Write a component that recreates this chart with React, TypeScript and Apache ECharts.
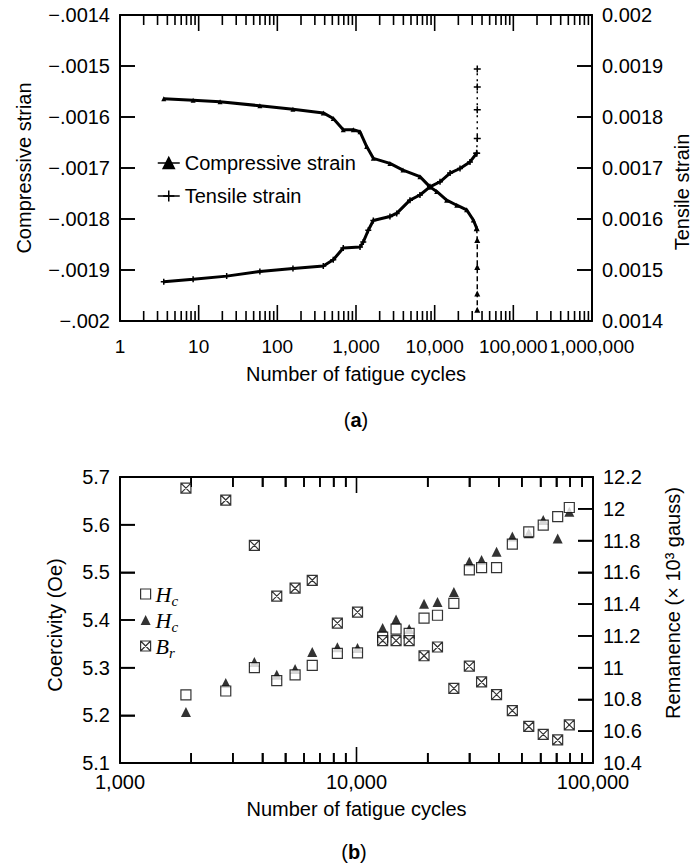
import React, { useEffect, useRef } from 'react';
import * as echarts from 'echarts';

// ---------- Chart (a): strain vs fatigue cycles ----------
const compressiveCycles = [3.6, 8.5, 18.7, 60, 158, 384, 514, 689, 924, 1125, 1368, 1660, 2700, 3955, 6500, 8710, 10600, 14200, 19100, 25500, 31000, 34200];
const compressiveStrain = [-0.001564, -0.001567, -0.00157, -0.001578, -0.001585, -0.001592, -0.001603, -0.001625, -0.001625, -0.001629, -0.001658, -0.001681, -0.001691, -0.001704, -0.001717, -0.001737, -0.001746, -0.001763, -0.001773, -0.001782, -0.001802, -0.001818];
const compressiveSpikeCycles = [34200, 34800, 34800, 34800, 34800];
const compressiveSpikeStrain = [-0.001818, -0.001841, -0.001894, -0.001946, -0.001978];

const tensileCycles = [3.6, 8.5, 22.7, 60, 158, 384, 514, 689, 1125, 1238, 1433, 1660, 2700, 3290, 4855, 6500, 8710, 11700, 15700, 21000, 28100, 34200];
const tensileStrain = [0.001477, 0.001482, 0.001488, 0.001497, 0.001503, 0.001508, 0.00152, 0.001543, 0.001545, 0.001555, 0.001578, 0.001597, 0.001605, 0.001611, 0.001637, 0.001647, 0.001663, 0.001673, 0.00169, 0.001699, 0.001712, 0.001729];
const tensileSpikeCycles = [34200, 34800, 34800, 34800, 34800];
const tensileSpikeStrain = [0.001729, 0.001758, 0.001814, 0.001859, 0.001894];

const topMajorTicks = [10, 100, 1000, 10000, 100000];
const topLabelTicks = [1, 10, 100, 1000, 10000, 100000, 999999.999];
const topDecades = [1, 10, 100, 1000, 10000, 100000];
const topLeftTicks = [-0.0019, -0.0018, -0.0017, -0.0016, -0.0015];
const topRightTicks = [0.0015, 0.0016, 0.0017, 0.0018, 0.0019];

// ---------- Chart (b): coercivity / remanence ----------
const cyclesB = [1900, 2800, 3700, 4600, 5500, 6500, 8300, 10100, 12900, 14700, 16700, 19300, 22000, 25800, 30000, 33800, 39100, 45600, 53500, 61600, 70900, 79400];
const hcSquare = [5.243, 5.251, 5.3, 5.273, 5.285, 5.305, 5.33, 5.331, 5.364, 5.381, 5.372, 5.404, 5.41, 5.435, 5.505, 5.51, 5.51, 5.559, 5.585, 5.599, 5.617, 5.636];
const hcTriangle = [5.207, 5.268, 5.312, 5.285, 5.297, 5.333, 5.343, 5.341, 5.383, 5.401, 5.381, 5.434, 5.438, 5.459, 5.522, 5.526, 5.543, 5.575, 5.582, 5.61, 5.571, 5.627];
const remanence = [12.13, 12.055, 11.77, 11.45, 11.5, 11.55, 11.28, 11.35, 11.17, 11.17, 11.17, 11.075, 11.13, 10.87, 11.01, 10.91, 10.83, 10.73, 10.63, 10.58, 10.545, 10.64];

const botMajorTicks = [10000];
const botLabelTicks = [1000, 10000, 100000];
const botDecades = [1000, 10000];
const botLeftTicks = [5.2, 5.3, 5.4, 5.5, 5.6];
const botRightTicks = [10.6, 10.8, 11, 11.2, 11.4, 11.6, 11.8, 12];

const FONT = 'Liberation Sans, Arial, Helvetica, sans-serif';
const SERIF = 'Liberation Serif, Times New Roman, serif';
const INK = '#000';
const THIN = 1.2;
const TICK_W = 1.6;

const minorsOf = (decades: number[]) => {
  const out: number[] = [];
  decades.forEach((d) => {
    [2, 3, 4, 5, 6, 7, 8, 9].forEach((m) => out.push(d * m));
  });
  return out;
};

const decadeLabel = (v: number) => String(Math.pow(10, Math.round(Math.log10(v)))).replace(/\B(?=(\d{3})+(?!\d))/g, ',');
const stripZeros = (s: string) => s.replace(/(\.\d*?)0+$/, '$1').replace(/\.$/, '');

function xAxes(gridIndex: number, min: number, max: number, labels: number[], labelMargin: number, labelSize: number, name: string, nameGap: number, nativeTicks: number[] | null) {
  const line = { show: true, onZero: false, lineStyle: { color: INK, width: 2 } };
  const tick = nativeTicks
    ? { show: true, inside: true, length: 10, customValues: nativeTicks, lineStyle: { color: INK, width: TICK_W } }
    : { show: false };
  const base: any = { type: 'log', gridIndex, min, max, axisTick: tick, splitLine: { show: false } };
  return [
    {
      ...base,
      position: 'bottom',
      axisLine: line,
      axisLabel: {
        show: true, customValues: labels, formatter: decadeLabel, margin: labelMargin,
        showMinLabel: true, showMaxLabel: true, hideOverlap: false,
        fontSize: labelSize, color: INK, fontFamily: FONT,
      },
      name,
      nameLocation: 'middle',
      nameGap,
      nameTextStyle: { fontSize: 20, color: INK, fontFamily: FONT },
    },
    { ...base, position: 'top', axisLine: line, axisLabel: { show: false } },
  ];
}

function yAxis(gridIndex: number, position: string, min: number, max: number, interval: number, formatter: (v: number) => string) {
  return {
    type: 'value', gridIndex, position, min, max, interval,
    axisLine: { show: true, onZero: false, lineStyle: { color: INK, width: 2 } },
    axisTick: { show: true, inside: true, length: 15, lineStyle: { color: INK, width: TICK_W } },
    axisLabel: { margin: 10, formatter, fontSize: 20, color: INK, fontFamily: FONT, showMinLabel: true, showMaxLabel: true },
    splitLine: { show: false },
  };
}

// Tick marks on the log x axes (bottom and top edges), placed through the axis scale.
function xTickSeries(xAxisIndex: number, yAxisIndex: number, yRef: number, ticks: number[], len: number) {
  return {
    type: 'custom', xAxisIndex, yAxisIndex, silent: true,
    data: ticks.map((t) => [t, yRef]),
    renderItem: (params: any, api: any) => {
      const cs = params.coordSys;
      const x = api.coord([api.value(0), yRef])[0];
      const bottom = cs.y + cs.height;
      const style = { fill: INK };
      return {
        type: 'group',
        children: [
          { type: 'rect', shape: { x: x - TICK_W / 2, y: bottom - len, width: TICK_W, height: len }, style },
          { type: 'rect', shape: { x: x - TICK_W / 2, y: cs.y, width: TICK_W, height: len }, style },
        ],
      };
    },
  };
}

// Tick marks on a y axis (inside the plot, from its own side), placed through the axis scale.
function yTickSeries(xAxisIndex: number, yAxisIndex: number, xRef: number, ticks: number[], len: number, side: 'left' | 'right') {
  return {
    type: 'custom', xAxisIndex, yAxisIndex, silent: true,
    data: ticks.map((t) => [xRef, t]),
    renderItem: (params: any, api: any) => {
      const cs = params.coordSys;
      const y = api.coord([xRef, api.value(1)])[1];
      const x0 = side === 'left' ? cs.x : cs.x + cs.width - len;
      return {
        type: 'group',
        children: [{ type: 'rect', shape: { x: x0, y: y - TICK_W / 2, width: len, height: TICK_W }, style: { fill: INK } }],
      };
    },
  };
}

const pairs = (xs: number[], ys: number[]) => xs.map((x, i) => [x, ys[i]]);

const PLUS = 'path://M0,5 L10,5 M5,0 L5,10';
const XBOX = 'path://M0,0 L10,0 L10,10 L0,10 Z M0,0 L10,10 M10,0 L0,10';

export default function App() {
  const ref = useRef<HTMLDivElement>(null);
  useEffect(() => {
    const chart = echarts.init(ref.current!, null, { renderer: 'svg' });
    const option: any = {
      animation: false,
      backgroundColor: '#fff',
      grid: [
        { left: 120, top: 15, width: 472, height: 306 },
        { left: 120, top: 477, width: 473, height: 286 },
      ],
      xAxis: [
        ...xAxes(0, 1, 1000000, topLabelTicks, 16, 19, 'Number of fatigue cycles', 43, null),
        ...xAxes(1, 1000, 100000, botLabelTicks, 9, 20, 'Number of fatigue cycles', 36, minorsOf(botDecades)),
      ],
      yAxis: [
        yAxis(0, 'left', -0.002, -0.0014, 0.0001, (v) => '\u2212' + stripZeros(Math.abs(v).toFixed(4)).replace(/^0/, '')),
        yAxis(0, 'right', 0.0014, 0.002, 0.0001, (v) => stripZeros(v.toFixed(4))),
        yAxis(1, 'left', 5.1, 5.7, 0.1, (v) => v.toFixed(1)),
        yAxis(1, 'right', 10.4, 12.2, 0.2, (v) => stripZeros(v.toFixed(1))),
      ],
      legend: [
        {
          data: ['Compressive strain', 'Tensile strain'],
          orient: 'vertical', left: 152, top: 148,
          itemWidth: 22, itemHeight: 14, itemGap: 13,
          textStyle: { fontSize: 20, color: INK, fontFamily: FONT },
          lineStyle: { width: 1.5, color: INK },
          itemStyle: { color: INK, borderColor: INK, borderWidth: 1.5 },
        },
        {
          data: ['Hc1', 'Hc2', 'Br'],
          orient: 'vertical', left: 135, top: 578,
          itemWidth: 10, itemHeight: 10, itemGap: 1,
          itemStyle: { borderWidth: THIN },
          formatter: (name: string) => (name === 'Br' ? '{i|B}{s|r}' : '{i|H}{s|c}'),
          textStyle: {
            rich: {
              i: { fontFamily: SERIF, fontStyle: 'italic', fontSize: 22, lineHeight: 22, verticalAlign: 'top', color: INK },
              s: { fontFamily: SERIF, fontStyle: 'italic', fontSize: 15, lineHeight: 15, verticalAlign: 'top', padding: [10, 0, 0, 0], color: INK },
            },
          },
        },
      ],
      series: [
        {
          name: 'Compressive strain', type: 'line', xAxisIndex: 0, yAxisIndex: 0,
          data: pairs(compressiveCycles, compressiveStrain),
          symbol: 'triangle', symbolSize: 5, showSymbol: true,
          lineStyle: { color: INK, width: 3 }, itemStyle: { color: INK },
        },
        {
          name: 'Compressive strain', type: 'line', xAxisIndex: 0, yAxisIndex: 0,
          data: pairs(compressiveSpikeCycles, compressiveSpikeStrain),
          symbol: 'triangle', symbolSize: 6,
          lineStyle: { color: INK, width: 1.5, type: [5, 3] }, itemStyle: { color: INK },
        },
        {
          name: 'Tensile strain', type: 'line', xAxisIndex: 0, yAxisIndex: 1,
          data: pairs(tensileCycles, tensileStrain),
          symbol: PLUS, symbolSize: 6, showSymbol: true,
          lineStyle: { color: INK, width: 3 }, itemStyle: { color: INK, borderColor: INK, borderWidth: 1.5 },
        },
        {
          name: 'Tensile strain', type: 'line', xAxisIndex: 0, yAxisIndex: 1,
          data: pairs(tensileSpikeCycles, tensileSpikeStrain),
          symbol: PLUS, symbolSize: 7,
          lineStyle: { color: INK, width: 1.5, type: [2, 4] }, itemStyle: { color: INK, borderColor: INK, borderWidth: 1.5 },
        },
        xTickSeries(0, 0, -0.0017, topMajorTicks, 16),
        xTickSeries(0, 0, -0.0017, minorsOf(topDecades), 10),
        yTickSeries(0, 0, 100, topLeftTicks, 15, 'left'),
        yTickSeries(0, 1, 100, topRightTicks, 15, 'right'),
        {
          name: 'Hc2', type: 'scatter', xAxisIndex: 2, yAxisIndex: 2,
          data: pairs(cyclesB, hcTriangle), symbol: 'triangle', symbolSize: 10, itemStyle: { color: INK },
        },
        {
          name: 'Hc1', type: 'scatter', xAxisIndex: 2, yAxisIndex: 2,
          data: pairs(cyclesB, hcSquare), symbol: 'rect', symbolSize: 10,
          itemStyle: { color: '#fff', borderColor: INK, borderWidth: THIN },
        },
        {
          name: 'Br', type: 'scatter', xAxisIndex: 2, yAxisIndex: 3,
          data: pairs(cyclesB, remanence), symbol: XBOX, symbolSize: 10,
          itemStyle: { color: '#fff', borderColor: INK, borderWidth: THIN },
        },
        xTickSeries(2, 2, 5.4, botMajorTicks, 16),
        xTickSeries(2, 2, 5.4, minorsOf(botDecades), 10),
        yTickSeries(2, 2, 10000, botLeftTicks, 15, 'left'),
        yTickSeries(2, 3, 10000, botRightTicks, 15, 'right'),
      ],
      graphic: [
        { type: 'text', x: 24, y: 168, rotation: Math.PI / 2, style: { text: 'Compressive strian', fontSize: 20, fontFamily: FONT, fill: INK, align: 'center', verticalAlign: 'middle' } },
        { type: 'text', x: 682, y: 192, rotation: Math.PI / 2, style: { text: 'Tensile strain', fontSize: 20, fontFamily: FONT, fill: INK, align: 'center', verticalAlign: 'middle' } },
        { type: 'text', x: 55, y: 625, rotation: Math.PI / 2, style: { text: 'Coercivity (Oe)', fontSize: 20, fontFamily: FONT, fill: INK, align: 'center', verticalAlign: 'middle' } },
        { type: 'text', x: 673, y: 603, rotation: Math.PI / 2, style: { text: 'Remanence (\u00d7 10\u00b3 gauss)', fontSize: 20, fontFamily: FONT, fill: INK, align: 'center', verticalAlign: 'middle' } },
        {
          type: 'text', x: 356, y: 420,
          style: { text: '{n|(}{b|a}{n|)}', align: 'center', verticalAlign: 'middle', rich: { n: { fontSize: 20, fontFamily: FONT, fill: INK }, b: { fontSize: 20, fontFamily: FONT, fontWeight: 'bold', fill: INK } } },
        },
        {
          type: 'text', x: 354, y: 852,
          style: { text: '{n|(}{b|b}{n|)}', align: 'center', verticalAlign: 'middle', rich: { n: { fontSize: 20, fontFamily: FONT, fill: INK }, b: { fontSize: 20, fontFamily: FONT, fontWeight: 'bold', fill: INK } } },
        },
      ],
    };
    chart.setOption(option);
    return () => chart.dispose();
  }, []);
  return <div ref={ref} style={{ position: 'fixed', left: 0, top: 0, width: 697, height: 864, background: '#fff' }} />;
}
